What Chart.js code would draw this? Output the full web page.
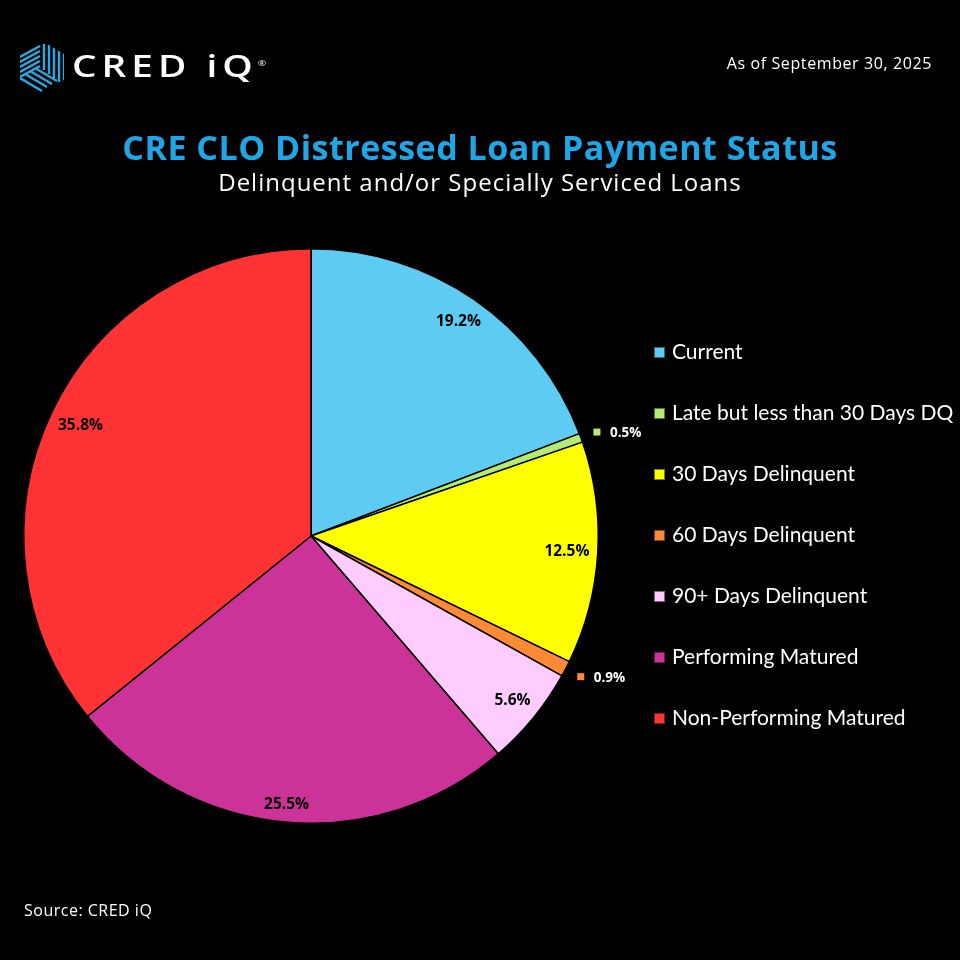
<!DOCTYPE html>
<html>
<head>
<meta charset="utf-8">
<script src="https://cdn.jsdelivr.net/npm/chart.js@4.4.1/dist/chart.umd.min.js"></script>
<style>
  html, body { margin: 0; padding: 0; background: #000; }
  #page { position: relative; width: 960px; height: 960px; background: #000; overflow: hidden; font-family: "Open Sans", sans-serif; color: #fff; }
  #chartBox { position: absolute; left: 0; top: 0; width: 960px; height: 960px; }
  #logo { position: absolute; left: 18px; top: 40px; }
  #logoText { position: absolute; left: 72px; top: 44px; font-family: "Open Sans", sans-serif; font-size: 31px; letter-spacing: 4px; font-weight: 600; color: #fff; transform: scaleX(1.25); transform-origin: left center; }
  #asof { position: absolute; right: 28px; top: 52px; font-size: 16px; letter-spacing: 0.6px; }
  #title { position: absolute; left: 0; width: 960px; top: 124px; text-align: center; font-size: 34px; letter-spacing: 0.5px; font-weight: 700; color: #1EA6E6; }
  #subtitle { position: absolute; left: 0; width: 960px; top: 165px; text-align: center; font-size: 24px; letter-spacing: 1px; }
  #legend { position: absolute; left: 654px; top: 338px; font-family: Lato, sans-serif; font-size: 21px; }
  .item { height: 61px; display: flex; align-items: flex-start; }
  .sw { width: 9px; height: 9px; border: 1px solid rgba(0,0,0,0.5); margin-top: 9px; margin-right: 7px; }
  #source { position: absolute; left: 24px; top: 899px; font-size: 16px; letter-spacing: 0.5px; }
</style>
</head>
<body>
<div id="page">
  <div id="chartBox"><canvas id="pie"></canvas></div>
  <svg id="logo" width="48" height="54" viewBox="0 0 48 54">
    <defs>
      <clipPath id="hex"><polygon points="24,1 46,14 46,40 24,53 2,40 2,14"/></clipPath>
    </defs>
    <g clip-path="url(#hex)" stroke="#29ABE2" stroke-width="2.4" fill="none">
      <line x1="26" y1="4" x2="26" y2="30"/><line x1="31" y1="4" x2="31" y2="34"/>
      <line x1="36" y1="6" x2="36" y2="38"/><line x1="41" y1="8" x2="41" y2="42"/>
      <line x1="46" y1="10" x2="46" y2="46"/>
      <line x1="0" y1="18" x2="22" y2="6"/><line x1="0" y1="23" x2="22" y2="11"/>
      <line x1="0" y1="28" x2="22" y2="16"/><line x1="0" y1="33" x2="22" y2="21"/>
      <line x1="0" y1="38" x2="22" y2="26"/>
      <line x1="2" y1="38" x2="24" y2="51"/><line x1="7" y1="34" x2="29" y2="47"/>
      <line x1="12" y1="31" x2="34" y2="44"/><line x1="17" y1="28" x2="39" y2="41"/>
    </g>
  </svg>
  <div id="logoText">CRED iQ<sup style="font-size:8px;letter-spacing:0;font-weight:400">®</sup></div>
  <div id="asof">As of September 30, 2025</div>
  <div id="title">CRE CLO Distressed Loan Payment Status</div>
  <div id="subtitle">Delinquent and/or Specially Serviced Loans</div>
  <div id="legend"></div>
  <div id="source">Source: CRED iQ</div>
</div>
<script>
const categories = ['Current', 'Late but less than 30 Days DQ', '30 Days Delinquent', '60 Days Delinquent', '90+ Days Delinquent', 'Performing Matured', 'Non-Performing Matured'];
const shares = [19.2, 0.5, 12.5, 0.9, 5.6, 25.5, 35.8];
const sliceColors = ['#5ECBF3', '#B3EB74', '#FFFF00', '#FF8A35', '#FFCCFF', '#CC3399', '#FF3333'];

// legend built from the same arrays
const legendEl = document.getElementById('legend');
categories.forEach((name, i) => {
    const row = document.createElement('div');
    row.className = 'item';
    row.innerHTML = '<span class="sw" style="background:' + sliceColors[i] + '"></span><span>' + name + '</span>';
    legendEl.appendChild(row);
});

const sliceLabels = {
    id: 'sliceLabels',
    afterDatasetsDraw(chart) {
        const ctx = chart.ctx;
        const arcs = chart.getDatasetMeta(0).data;
        ctx.save();
        ctx.textBaseline = 'middle';
        arcs.forEach((arc, i) => {
            const p = arc.getProps(['x', 'y', 'startAngle', 'endAngle', 'outerRadius'], true);
            const mid = (p.startAngle + p.endAngle) / 2;
            const cos = Math.cos(mid), sin = Math.sin(mid);
            const txt = shares[i].toFixed(1) + '%';
            if (shares[i] < 1) {
                const r = p.outerRadius + 17;
                const mx = p.x + cos * r;
                const my = p.y + sin * r;
                ctx.fillStyle = sliceColors[i];
                ctx.fillRect(mx - 3.5, my - 3.5, 7, 7);
                ctx.fillStyle = '#fff';
                ctx.font = 'bold 13.5px "Open Sans", sans-serif';
                ctx.textAlign = 'left';
                ctx.fillText(txt, mx + 13, my + 1);
            } else {
                // inside end: keep the text box just inside the rim
                ctx.font = 'bold 15.5px "Open Sans", sans-serif';
                const w = ctx.measureText(txt).width;
                const h = 16;
                const r = p.outerRadius - 8 - (Math.abs(cos) * w / 2 + Math.abs(sin) * h / 2);
                ctx.fillStyle = '#000';
                ctx.textAlign = 'center';
                ctx.fillText(txt, p.x + cos * r, p.y + sin * r);
            }
        });
        ctx.restore();
    }
};

new Chart(document.getElementById('pie'), {
    type: 'pie',
    data: {
        labels: categories,
        datasets: [{
            data: shares,
            backgroundColor: sliceColors,
            borderColor: '#000',
            borderWidth: 1.5
        }]
    },
    options: {
        responsive: true,
        maintainAspectRatio: false,
        animation: false,
        layout: { padding: { left: 23, top: 248, right: 361, bottom: 136 } },
        plugins: {
            legend: { display: false },
            tooltip: { enabled: false }
        }
    },
    plugins: [sliceLabels]
});
</script>
</body>
</html>
